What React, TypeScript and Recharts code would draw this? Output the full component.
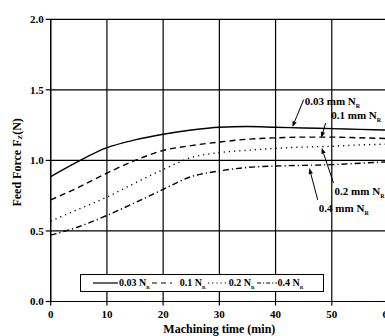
import React from 'react';
import { LineChart, Line, XAxis, YAxis, CartesianGrid, ReferenceLine, ReferenceDot, Legend } from 'recharts';

const minutes = [0, 5, 10, 15, 20, 25, 30, 35, 40, 45, 50, 55, 60];
const nr003 = [0.885, 0.995, 1.09, 1.145, 1.185, 1.215, 1.235, 1.24, 1.235, 1.23, 1.225, 1.22, 1.215];
const nr01 = [0.72, 0.81, 0.91, 1.0, 1.07, 1.105, 1.13, 1.15, 1.16, 1.165, 1.165, 1.16, 1.155];
const nr02 = [0.57, 0.655, 0.74, 0.84, 0.935, 1.02, 1.055, 1.072, 1.085, 1.095, 1.1, 1.11, 1.115];
const nr04 = [0.47, 0.53, 0.61, 0.7, 0.795, 0.885, 0.925, 0.95, 0.96, 0.965, 0.97, 0.98, 0.99];

const xTicks = [0, 10, 20, 30, 40, 50, 60];
const yTicks = [0, 0.5, 1.0, 1.5, 2.0];

const seriesNames = ['0.03', '0.1', '0.2', '0.4'];
const seriesKeys = ['a', 'b', 'c', 'd'];
const seriesDash = ['0', '6 4', '1.2 4', '6 3 1.2 3'];

// annotation anchors in data units
const annotations = [
  { label: '0.03', tx: 45.2, ty: 1.393, x1: 44.99, y1: 1.43, x2: 42.99, y2: 1.236 },
  { label: '0.1', tx: 49.9, ty: 1.29, x1: 48.9, y1: 1.265, x2: 48.13, y2: 1.16 },
  { label: '0.2', tx: 50.5, ty: 0.758, x1: 50.3, y1: 0.84, x2: 48.2, y2: 1.09 },
  { label: '0.4', tx: 47.7, ty: 0.631, x1: 47.5, y1: 0.72, x2: 46.0, y2: 0.946 },
];

const data = minutes.map((t, i) => ({ t, a: nr003[i], b: nr01[i], c: nr02[i], d: nr04[i] }));

const FONT = '"Liberation Serif", "Times New Roman", serif';

const Arrow = (p: any) => {
  const { x1, y1, x2, y2 } = p;
  const ang = Math.atan2(y2 - y1, x2 - x1);
  const L = 6, W = 2.2;
  const bx = x2 - L * Math.cos(ang), by = y2 - L * Math.sin(ang);
  const px = -Math.sin(ang) * W, py = Math.cos(ang) * W;
  return (
    <g>
      <line x1={x1} y1={y1} x2={bx} y2={by} stroke="#000" strokeWidth={1} />
      <polygon points={`${x2},${y2} ${bx + px},${by + py} ${bx - px},${by - py}`} fill="#000" />
    </g>
  );
};

const makeText = (label: string) => (p: any) => (
  <text x={p.cx} y={p.cy} fontFamily={FONT} fontWeight="bold" fontSize={11} fill="#000">
    {label} mm N<tspan fontSize={6} dy={3}>R</tspan>
  </text>
);

const LegendContent = () => (
  <div style={{ width: 242, height: 16, border: '1px solid #000', background: '#fff', display: 'flex', alignItems: 'center', fontFamily: FONT, fontWeight: 'bold', fontSize: 10, boxSizing: 'content-box' }}>
    {seriesNames.map((n, i) => (
      <div key={n} style={{ display: 'flex', alignItems: 'center', marginLeft: i === 0 ? 12 : 2 }}>
        <svg width={i === 0 ? 25 : 20} height={8}>
          <line x1={0} y1={4} x2={i === 0 ? 25 : 20} y2={4} stroke="#000" strokeWidth={1.2} strokeDasharray={i === 0 ? undefined : (i === 1 ? '5 4' : i === 2 ? '1.2 3' : '4 2 1.2 2')} />
        </svg>
        <span style={{ marginLeft: i === 1 ? 8 : 1, whiteSpace: 'nowrap' }}>
          {n} N<sub style={{ fontSize: 5 }}>R</sub>
        </span>
      </div>
    ))}
  </div>
);

const YLabel = (props: any) => {
  const vb = props.viewBox || {};
  const cx = 9.5;
  const cy = vb.y + vb.height / 2 + 2;
  return (
    <text x={cx} y={cy} transform={`rotate(-90, ${cx}, ${cy})`} textAnchor="middle" dominantBaseline="central" fontFamily={FONT} fontWeight="bold" fontSize={12} fill="#000">
      Feed Force F<tspan fontSize={7} dy={3}>Z</tspan><tspan dy={-3}>(N)</tspan>
    </text>
  );
};

export default function App() {
  return (
    <div style={{ width: 385, height: 336, overflow: 'hidden', position: 'relative', boxSizing: 'border-box', paddingLeft: 8, paddingTop: 8 }}>
      <style>{'html,body{margin:0;padding:0;overflow:hidden;}'}</style>
      <LineChart width={400} height={328} data={data} margin={{ top: 11.3, right: 20, left: 0, bottom: 0 }}>
        <CartesianGrid stroke="#000" strokeWidth={1.2} horizontal vertical />
        <XAxis
          type="number"
          dataKey="t"
          domain={[0, 60]}
          ticks={xTicks}
          height={34.5}
          stroke="#000"
          strokeWidth={1.2}
          tickSize={4}
          tickMargin={5}
          tick={{ fill: '#000', fontFamily: FONT, fontWeight: 'bold', fontSize: 11 }}
          label={{ value: 'Machining time (min)', position: 'insideBottom', offset: 3, fill: '#000', fontFamily: FONT, fontWeight: 'bold', fontSize: 12 }}
        />
        <YAxis
          type="number"
          domain={[0, 2]}
          ticks={yTicks}
          width={42.7}
          stroke="#000"
          strokeWidth={1.2}
          tickSize={5}
          tickMargin={2}
          tickFormatter={(v: number) => v.toFixed(1)}
          tick={{ fill: '#000', fontFamily: FONT, fontWeight: 'bold', fontSize: 11 }}
          label={<YLabel />}
        />
        {seriesKeys.map((k, i) => (
          <Line key={k} type="monotone" dataKey={k} stroke="#000" strokeWidth={1.4} strokeDasharray={seriesDash[i]} dot={false} isAnimationActive={false} />
        ))}
        {annotations.map((a) => (
          <ReferenceLine key={'l' + a.label} segment={[{ x: a.x1, y: a.y1 }, { x: a.x2, y: a.y2 }]} shape={Arrow} ifOverflow="visible" />
        ))}
        {annotations.map((a) => (
          <ReferenceDot key={'t' + a.label} x={a.tx} y={a.ty} r={0} shape={makeText(a.label)} ifOverflow="visible" />
        ))}
        <Legend layout="vertical" align="center" verticalAlign="middle" content={<LegendContent />} wrapperStyle={{ left: 72, top: 266, width: 244, height: 18 }} />
      </LineChart>
    </div>
  );
}
